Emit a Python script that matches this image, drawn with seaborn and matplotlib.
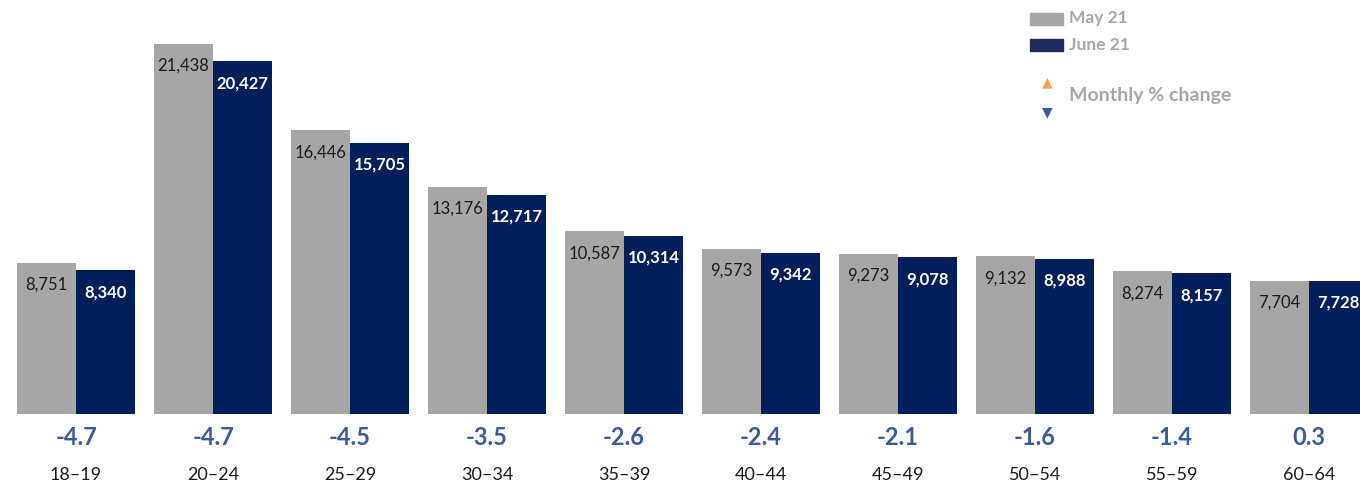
import matplotlib.pyplot as plt
import seaborn as sns
import pandas as pd
from matplotlib.patches import Rectangle

sns.set_theme(style="white")
plt.rcParams['font.family'] = ['Lato', 'DejaVu Sans']

AGE_GROUPS = ["18-19", "20-24", "25-29", "30-34", "35-39",
              "40-44", "45-49", "50-54", "55-59", "60-64"]
MAY_21 = [8751, 21438, 16446, 13176, 10587, 9573, 9273, 9132, 8274, 7704]
JUNE_21 = [8340, 20427, 15705, 12717, 10314, 9342, 9078, 8988, 8157, 7728]
PCT_CHANGE = [-4.7, -4.7, -4.5, -3.5, -2.6, -2.4, -2.1, -1.6, -1.4, 0.3]

GREY = "#a6a6a6"
NAVY = "#001f5b"
BLUE = "#3a5ba0"
ORANGE = "#f5a04a"

df = pd.DataFrame({
    "age": AGE_GROUPS * 2,
    "value": MAY_21 + JUNE_21,
    "month": ["May 21"] * len(MAY_21) + ["June 21"] * len(JUNE_21),
})

fig = plt.figure(figsize=(13.6, 4.87), dpi=100)
ax = fig.add_axes([0, 0, 1, 1])

sns.barplot(data=df, x="age", y="value", hue="month",
            hue_order=["May 21", "June 21"], palette=[GREY, NAVY],
            width=0.861, saturation=1, legend=False, ax=ax, linewidth=0)

ax.set_xlim(-0.555, 9.372)
ax.set_ylim(-4229, 23987)
ax.axis("off")

# value labels inside the bars
for container, color, weight in zip(ax.containers, ["#1a1a1a", "white"], ["normal", "bold"]):
    for bar in container:
        h = bar.get_height()
        ax.text(bar.get_x() + bar.get_width() / 2, h - 1275, f"{int(h):,}",
                ha="center", va="center", color=color, fontsize=12, fontweight=weight)

# monthly % change and category labels
for i, (age, pct) in enumerate(zip(AGE_GROUPS, PCT_CHANGE)):
    ax.text(i, -1390, f"{pct:.1f}", ha="center", va="center",
            color=BLUE, fontsize=17, fontweight="bold")
    ax.text(i, -3534, age.replace("-", "\u2013"), ha="center", va="center",
            color="#1a1a1a", fontsize=13)

# legend drawn by hand
W, H = 1360, 487
fig.patches.append(Rectangle((1030 / W, 1 - 25 / H), 33 / W, 12 / H,
                             transform=fig.transFigure, color=GREY))
fig.patches.append(Rectangle((1030 / W, 1 - 51 / H), 33 / W, 12 / H,
                             transform=fig.transFigure, color="#1f2a5c"))
fig.text(1069 / W, 1 - 18 / H, "May 21", ha="left", va="center",
         color=GREY, fontsize=12.5, fontweight="bold")
fig.text(1069 / W, 1 - 45 / H, "June 21", ha="left", va="center",
         color=GREY, fontsize=12.5, fontweight="bold")
fig.text(1047 / W, 1 - 82 / H, "\u25b2", ha="center", va="center",
         color=ORANGE, fontsize=10, family="DejaVu Sans")
fig.text(1047 / W, 1 - 112 / H, "\u25bc", ha="center", va="center",
         color=BLUE, fontsize=10, family="DejaVu Sans")
fig.text(1069 / W, 1 - 95 / H, "Monthly % change", ha="left", va="center",
         color=GREY, fontsize=14, fontweight="bold")

fig.savefig("out.png", dpi=100)
